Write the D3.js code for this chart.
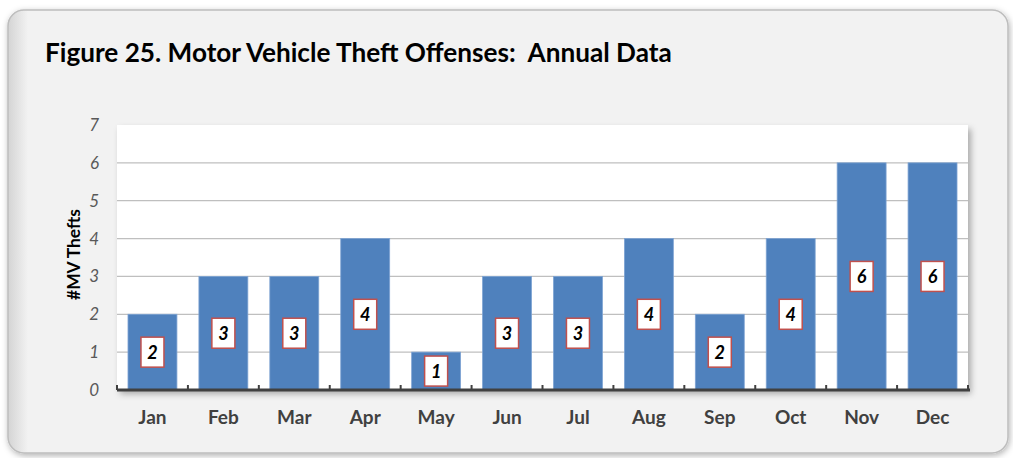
<!DOCTYPE html>
<html>
<head>
<meta charset="utf-8">
<script src="https://cdn.jsdelivr.net/npm/d3@7"></script>
<style>
  body { margin: 0; background: #fff; }
  svg { display: block; font-family: Lato, "Open Sans", sans-serif; }
</style>
</head>
<body>
<div id="chart"></div>
<script>
const months = ['Jan', 'Feb', 'Mar', 'Apr', 'May', 'Jun', 'Jul', 'Aug', 'Sep', 'Oct', 'Nov', 'Dec'];
const thefts = [2, 3, 3, 4, 1, 3, 3, 4, 2, 4, 6, 6];
const yTicks = [0, 1, 2, 3, 4, 5, 6, 7];
const title = 'Figure 25. Motor Vehicle Theft Offenses:  Annual Data';
const yTitle = '#MV Thefts';

const width = 1013, height = 458;
const plot = { left: 117, right: 968, top: 125, bottom: 390 };

const svg = d3.select('#chart').append('svg')
  .attr('width', width)
  .attr('height', height);

const defs = svg.append('defs');

function addShadow(id, dx, dy, blur, opacity) {
  const f = defs.append('filter').attr('id', id)
    .attr('x', '-5%').attr('y', '-5%').attr('width', '110%').attr('height', '115%');
  f.append('feGaussianBlur').attr('in', 'SourceAlpha').attr('stdDeviation', blur).attr('result', 'b');
  f.append('feOffset').attr('in', 'b').attr('dx', dx).attr('dy', dy).attr('result', 'o');
  f.append('feFlood').attr('flood-color', '#000').attr('flood-opacity', opacity);
  f.append('feComposite').attr('in2', 'o').attr('operator', 'in').attr('result', 's');
  const m = f.append('feMerge');
  m.append('feMergeNode').attr('in', 's');
  m.append('feMergeNode').attr('in', 'SourceGraphic');
}
addShadow('cardShade', 1, 2, 3, 0.3);
addShadow('plotShadow', 3, 4, 3, 0.3);

// card edge shading
const edge = defs.append('linearGradient').attr('id', 'edgeGrad')
  .attr('x1', 0).attr('x2', 1).attr('y1', 0).attr('y2', 0);
edge.append('stop').attr('offset', 0).attr('stop-color', '#d4d4d4');
edge.append('stop').attr('offset', 0.02).attr('stop-color', '#f2f2f2');
edge.append('stop').attr('offset', 1).attr('stop-color', '#f2f2f2');

svg.append('rect')
  .attr('x', 8).attr('y', 10)
  .attr('width', 1000).attr('height', 443)
  .attr('rx', 16)
  .attr('fill', 'url(#edgeGrad)')
  .attr('stroke', '#bdbdbd')
  .attr('stroke-width', 1.5)
  .attr('filter', 'url(#cardShade)');

// fit text to the width seen in the reference
function fitWidth(sel, target) {
  const w = sel.node().getComputedTextLength();
  const fs = +sel.attr('font-size');
  sel.attr('font-size', (fs * target / w).toFixed(2));
}

const titleText = svg.append('text')
  .attr('x', 45).attr('y', 62)
  .attr('font-size', 26)
  .attr('font-weight', 'bold')
  .attr('fill', '#000')
  .style('white-space', 'pre')
  .text(title);
fitWidth(titleText, 627);

const x = d3.scaleBand()
  .domain(months)
  .range([plot.left, plot.right])
  .paddingInner(0.31)
  .paddingOuter(0.155);

const y = d3.scaleLinear()
  .domain([0, 7])
  .range([plot.bottom, plot.top]);

// plot area
svg.append('rect')
  .attr('x', plot.left).attr('y', plot.top)
  .attr('width', plot.right - plot.left).attr('height', plot.bottom - plot.top)
  .attr('fill', '#fff')
  .attr('filter', 'url(#plotShadow)');

// gridlines
svg.append('g')
  .selectAll('line')
  .data(yTicks.filter(d => d > 0 && d < 7))
  .join('line')
  .attr('x1', plot.left).attr('x2', plot.right)
  .attr('y1', d => y(d)).attr('y2', d => y(d))
  .attr('stroke', '#bfbfbf')
  .attr('stroke-width', 1.2);

// bars
svg.append('g')
  .selectAll('rect')
  .data(thefts)
  .join('rect')
  .attr('x', (d, i) => x(months[i]))
  .attr('y', d => y(d))
  .attr('width', x.bandwidth())
  .attr('height', d => y(0) - y(d))
  .attr('fill', '#4f81bd')
  .attr('stroke', '#7ea3d3')
  .attr('stroke-width', 0.8);

// y axis labels
const yAxis = svg.append('g')
  .attr('transform', `translate(${plot.left},0)`)
  .call(d3.axisLeft(y).tickValues(yTicks).tickFormat(d3.format('d')).tickSize(0).tickPadding(18));
yAxis.select('.domain').remove();
yAxis.selectAll('text')
  .attr('font-family', 'Lato, "Open Sans", sans-serif')
  .attr('font-size', 17)
  .attr('font-style', 'italic')
  .attr('fill', '#595959');

// x axis with ticks at category boundaries
const step = x.step();
const boundaries = d3.range(months.length + 1).map(i => plot.left + i * step);
const axisG = svg.append('g');
axisG.append('line')
  .attr('x1', plot.left).attr('x2', plot.right + 2)
  .attr('y1', plot.bottom).attr('y2', plot.bottom)
  .attr('stroke', '#404040')
  .attr('stroke-width', 3);
axisG.selectAll('line.tick')
  .data(boundaries)
  .join('line')
  .attr('class', 'tick')
  .attr('x1', d => d).attr('x2', d => d)
  .attr('y1', plot.bottom).attr('y2', plot.bottom - 5)
  .attr('stroke', '#404040')
  .attr('stroke-width', 2);

const xAxis = svg.append('g')
  .attr('transform', `translate(0,${plot.bottom})`)
  .call(d3.axisBottom(x).tickSize(0).tickPadding(21));
xAxis.select('.domain').remove();
xAxis.selectAll('text')
  .attr('font-family', 'Lato, "Open Sans", sans-serif')
  .attr('font-size', 19)
  .attr('font-weight', 'bold')
  .attr('fill', '#404040');

// y axis title
const yTitleText = svg.append('text')
  .attr('transform', `translate(80,${(plot.top + plot.bottom) / 2 - 3}) rotate(-90)`)
  .attr('text-anchor', 'middle')
  .attr('font-size', 15)
  .attr('font-weight', 'bold')
  .attr('fill', '#000')
  .text(yTitle);
fitWidth(yTitleText, 91);

// value labels
const labels = svg.append('g')
  .selectAll('g')
  .data(thefts)
  .join('g')
  .attr('transform', (d, i) => `translate(${x(months[i]) + x.bandwidth() / 2},${y(d / 2)})`);
labels.append('rect')
  .attr('x', -11.5).attr('y', -15)
  .attr('width', 23).attr('height', 30)
  .attr('fill', '#fff')
  .attr('stroke', '#c0504d')
  .attr('stroke-width', 1.5);
labels.append('text')
  .attr('text-anchor', 'middle')
  .attr('dy', '0.36em')
  .attr('font-size', 18)
  .attr('font-weight', 'bold')
  .attr('font-style', 'italic')
  .attr('fill', '#000')
  .text(d => d);
</script>
</body>
</html>
